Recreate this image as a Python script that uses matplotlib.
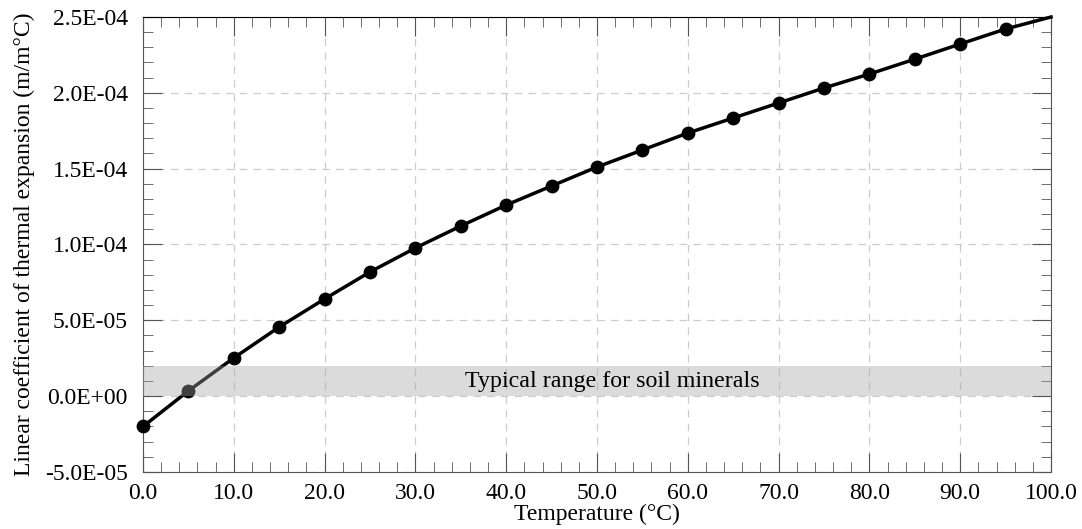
import matplotlib
matplotlib.use("Agg")
import matplotlib.pyplot as plt
from matplotlib.ticker import MultipleLocator, FuncFormatter

plt.rcParams['font.family'] = ['Liberation Serif', 'DejaVu Serif']

# temperature (deg C) and linear coefficient of thermal expansion
temps = [0, 5, 10, 15, 20, 25, 30, 35, 40, 45, 50, 55, 60, 65, 70, 75, 80, 85, 90, 95]
alpha = [-2.0e-5, 3.5e-6, 2.52e-5, 4.56e-5, 6.41e-5, 8.19e-5, 9.77e-5, 1.122e-4,
         1.26e-4, 1.386e-4, 1.511e-4, 1.623e-4, 1.735e-4, 1.834e-4, 1.933e-4,
         2.032e-4, 2.124e-4, 2.222e-4, 2.322e-4, 2.421e-4]
line_end_t = 100
line_end_a = 2.5e-4
band_low, band_high = 0.0, 2.0e-5


def sci(v, pos):
    s = f"{v:.1E}"
    mant, exp = s.split("E")
    sign = "-" if int(exp) < 0 else "+"
    return f"{mant}E{sign}{abs(int(exp)):02d}"


fig = plt.figure(figsize=(10.82, 5.29), dpi=100)
ax = fig.add_axes([143 / 1082, 1 - 472 / 529, (1051 - 143) / 1082, (472 - 17) / 529])

ax.plot(temps + [line_end_t], alpha + [line_end_a], color='black', lw=2.5, zorder=3,
        clip_on=False)
ax.scatter(temps, alpha, s=80, color='black', zorder=4, clip_on=False)

ax.axhspan(band_low, band_high, color='#a4a4a4', alpha=0.39, zorder=5, lw=0)
ax.text(51.7, 1.0e-5, "Typical range for soil minerals", ha='center', va='center',
        fontsize=17.3, zorder=6)

ax.set_xlim(0, 100)
ax.set_ylim(-5e-5, 2.5e-4)
ax.xaxis.set_major_locator(MultipleLocator(10))
ax.xaxis.set_minor_locator(MultipleLocator(2))
ax.yaxis.set_major_locator(MultipleLocator(5e-5))
ax.yaxis.set_minor_locator(MultipleLocator(1e-5))
ax.xaxis.set_major_formatter(FuncFormatter(lambda v, p: f"{v:.1f}"))
ax.yaxis.set_major_formatter(FuncFormatter(sci))

ax.tick_params(which='both', direction='in', top=True, right=True, color='#555555')
ax.tick_params(which='major', length=14, labelsize=17)
ax.tick_params(axis='x', which='major', pad=8)
ax.tick_params(axis='y', which='major', pad=11)
ax.tick_params(which='minor', length=7)
ax.grid(True, which='major', linestyle=(0, (6, 5)), color='#cccccc', lw=0.9)
for sp in ax.spines.values():
    sp.set_color('#555555')
ax.spines['top'].set_color('black')

ax.set_xlabel("Temperature (\u00b0C)", fontsize=17, labelpad=0)
ax.set_ylabel("Linear coefficient of thermal expansion (m/m\u00b0C)", fontsize=17, labelpad=7)

fig.savefig("out.png", dpi=100)
